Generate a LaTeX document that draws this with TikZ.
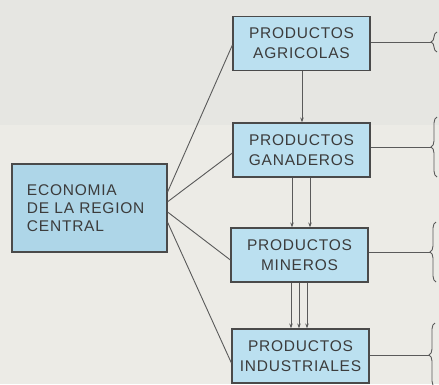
\documentclass[tikz,border=0pt]{standalone}
\usepackage{fontspec}
\setmainfont{Liberation Sans}[LetterSpace=5]
\usetikzlibrary{calc,decorations.pathreplacing,arrows.meta}
\definecolor{paper}{HTML}{ECEBE6}
\definecolor{papertop}{HTML}{E6E6E2}
\definecolor{boxblue}{HTML}{BBE0F0}
\definecolor{econblue}{HTML}{AED6E8}
\definecolor{boxline}{HTML}{4A4A4A}
\definecolor{ink}{HTML}{3C3C3C}
\definecolor{wire}{HTML}{5A5A5A}
\begin{document}
\begin{tikzpicture}[x=1pt,y=-1pt,
  prodbox/.style={draw=boxline, line width=1.2pt, fill=boxblue, minimum width=137pt,
    minimum height=54pt, align=center, inner sep=0pt, text=ink,
    font=\fontsize{15.5}{20}\selectfont},
  econbox/.style={draw=boxline, line width=1.2pt, fill=econblue, minimum width=155pt,
    minimum height=88pt, text width=125pt, align=left, inner sep=0pt, text=ink,
    font=\fontsize{15.5}{18}\selectfont},
  conn/.style={draw=wire, line width=0.9pt},
  arr/.style={draw=wire, line width=0.9pt, -{Stealth[length=5pt,width=3.5pt]}},
  bracestyle/.style={draw=wire, line width=0.9pt, decorate,
    decoration={brace, amplitude=6pt}}]
\useasboundingbox (0,0) rectangle (439,384);
\fill[paper] (0,0) rectangle (439,384);
\fill[papertop] (0,0) rectangle (439,125);

\node[econbox] (econ) at (89.5,208) {ECONOMIA\\DE LA REGION\\CENTRAL};
\node[prodbox] (agr) at (301.5,43.5) {PRODUCTOS\\AGRICOLAS};
\node[prodbox] (gan) at (301.5,150) {PRODUCTOS\\GANADEROS};
\node[prodbox] (min) at (299.5,255) {PRODUCTOS\\MINEROS};
\node[prodbox] (ind) at (300.5,356) {PRODUCTOS\\INDUSTRIALES};

% connectors from the economy box
\draw[conn] ($(econ.north east)!0.32!(econ.south east)$) -- ($(agr.west)+(0,1.5)$);
\draw[conn] ($(econ.north east)!0.43!(econ.south east)$) -- ($(gan.west)+(0,3)$);
\draw[conn] ($(econ.north east)!0.545!(econ.south east)$) -- ($(min.west)+(0,5)$);
\draw[conn] ($(econ.north east)!0.66!(econ.south east)$) -- ($(ind.west)+(0,7)$);

% vertical arrows
\draw[arr] ($(agr.south)+(0.5,0)$) -- ($(gan.north)+(0.5,0)$);
\draw[arr] ($(gan.south)+(-9.5,0)$) -- ($(min.north)+(-7.5,0)$);
\draw[arr] ($(gan.south)+(8.5,0)$) -- ($(min.north)+(10.5,0)$);
\draw[arr] ($(min.south)+(-8.5,0)$) -- ($(ind.north)+(-9.5,0)$);
\draw[arr] ($(min.south)+(-0.5,0)$) -- ($(ind.north)+(-1.5,0)$);
\draw[arr] ($(min.south)+(7.5,0)$) -- ($(ind.north)+(6.5,0)$);

% lines to the braces
\coordinate (t1) at (431,42);
\coordinate (t2) at (431,147);
\coordinate (t3) at (430,252);
\coordinate (t4) at (429,355);
\draw[conn] (agr.east |- t1) -- (t1);
\draw[conn] (gan.east |- t2) -- (t2);
\draw[conn] (min.east |- t3) -- (t3);
\draw[conn] (ind.east |- t4) -- (t4);

% braces
\draw[bracestyle] (437,52) -- (437,32);
\draw[bracestyle] (437,177) -- (437,117);
\draw[bracestyle] (436,282) -- (436,222);
\draw[bracestyle] (435,387) -- (435,323);
\end{tikzpicture}
\end{document}
